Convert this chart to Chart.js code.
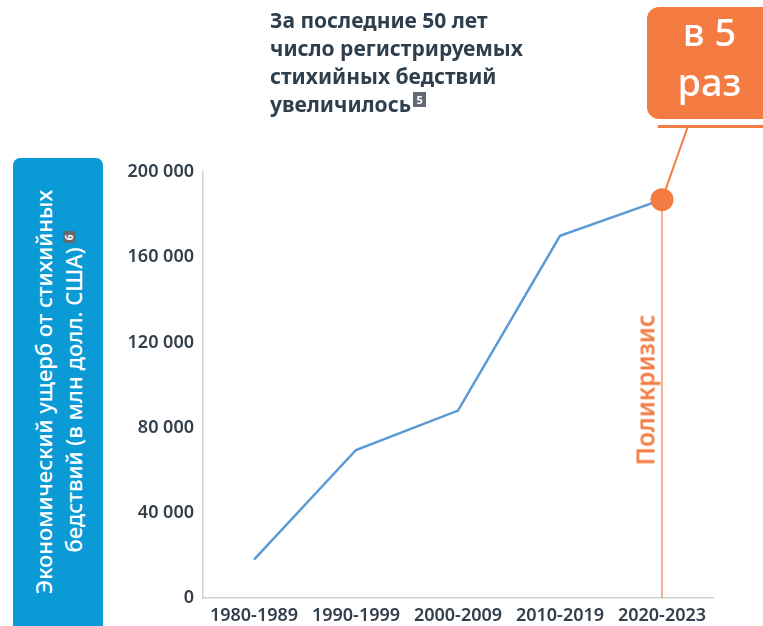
<!DOCTYPE html>
<html lang="ru">
<head>
<meta charset="utf-8">
<script src="https://cdn.jsdelivr.net/npm/chart.js@4"></script>
<style>
  html, body { margin: 0; padding: 0; background: #fff; }
  body { width: 763px; height: 626px; position: relative; overflow: hidden; font-family: "Noto Sans", sans-serif; }
  #wrap { position: absolute; left: 0; top: 0; width: 763px; height: 626px; }
  .title { position: absolute; left: 270px; top: 6px; font-size: 21px; font-weight: 700; line-height: 28px; color: #2f3e4c; }
  .sup { display: inline-block; background: #626a73; color: #fff; font-size: 11px; line-height: 15px; width: 13px; text-align: center; vertical-align: 8px; margin-left: 2px; font-weight: 700; }
  .ylabelBox { position: absolute; left: 13px; top: 158px; width: 90px; height: 480px; background: #0a9bd7; border-radius: 7px; }
  .ylabel { position: absolute; left: 58px; top: 392px; width: 460px; transform: translate(-50%, -50%) rotate(-90deg); color: #fff; font-size: 22px; font-weight: 500; line-height: 30px; text-align: center; }
  .ylabel .sup { font-size: 10px; line-height: 13px; width: 12px; vertical-align: 9px; margin-left: 4px; }
  .callout { position: absolute; left: 647px; top: 7px; width: 130px; height: 112px; background: #f47c42; border-radius: 12px; }
  .calloutText { position: absolute; left: 647px; top: 6px; width: 125px; text-align: center; color: #fff; font-size: 38px; font-weight: 500; line-height: 50px; }
  .underline { position: absolute; left: 658px; top: 125px; width: 110px; height: 3px; background: #f47c42; }
  .poly { position: absolute; left: 645px; top: 390px; transform: translate(-50%, -50%) rotate(-90deg); color: #f47c42; font-size: 24.5px; font-weight: 600; white-space: nowrap; }
</style>
</head>
<body>
<div id="wrap"><canvas id="lineChart"></canvas></div>
<div class="title">За последние 50 лет<br>число регистрируемых<br>стихийных бедствий<br>увеличилось<span class="sup">5</span></div>
<div class="ylabelBox"></div>
<div class="ylabel">Экономический ущерб от стихийных<br>бедствий (в млн долл. США)<span class="sup">6</span></div>
<div class="callout"></div>
<div class="calloutText">в 5<br>раз</div>
<div class="underline"></div>
<div class="poly">Поликризис</div>
<script>
const periods = ['1980-1989', '1990-1999', '2000-2009', '2010-2019', '2020-2023'];
const damage = [18000, 69500, 88000, 170000, 187000];
const yTicks = [0, 40000, 80000, 120000, 160000, 200000];

const orange = '#f47c42';
const lastIdx = damage.length - 1;

// vertical line + connector to the callout, drawn under the point
const polycrisis = {
    id: 'polycrisis',
    beforeDatasetsDraw(chart) {
        const ctx = chart.ctx;
        const pt = chart.getDatasetMeta(0).data[lastIdx];
        const bottom = chart.chartArea.bottom;
        ctx.save();
        ctx.strokeStyle = orange;
        ctx.lineWidth = 1.2;
        ctx.beginPath();
        ctx.moveTo(pt.x, pt.y);
        ctx.lineTo(pt.x, bottom);
        ctx.stroke();
        ctx.lineWidth = 2;
        ctx.beginPath();
        ctx.moveTo(pt.x, pt.y);
        ctx.lineTo(688, 126);
        ctx.stroke();
        ctx.restore();
    }
};

const lineCtx = document.getElementById('lineChart').getContext('2d');
const lineChart = new Chart(lineCtx, {
    type: 'line',
    data: {
        labels: periods,
        datasets: [{
            data: damage,
            borderColor: '#5b9bd5',
            borderWidth: 2.5,
            tension: 0,
            pointRadius: ctx => ctx.dataIndex === lastIdx ? 11.5 : 0,
            pointBackgroundColor: orange,
            pointBorderWidth: 0
        }]
    },
    options: {
        responsive: true,
        maintainAspectRatio: false,
        animation: false,
        layout: {
            padding: { left: 100, top: 172, right: 50, bottom: 0 }
        },
        plugins: {
            legend: { display: false },
            tooltip: { enabled: false }
        },
        scales: {
            x: {
                offset: true,
                grid: { display: false, drawTicks: false },
                border: { color: '#cfcfcf', width: 1.5 },
                ticks: {
                    color: '#333f4b',
                    font: { family: 'Noto Sans', size: 18, weight: '600' },
                    padding: 7,
                    maxRotation: 0
                },
                afterFit: scale => { scale.height = 28; }
            },
            y: {
                min: 0,
                max: 200000,
                grid: { display: false, drawTicks: false },
                border: { color: '#cfcfcf', width: 1.5 },
                afterBuildTicks: scale => { scale.ticks = yTicks.map(v => ({ value: v })); },
                ticks: {
                    color: '#333f4b',
                    font: { family: 'Noto Sans', size: 18, weight: '600' },
                    padding: 9,
                    callback: v => v.toLocaleString('ru-RU').replace(/\s/g, ' ')
                },
                afterFit: scale => { scale.width = 103; }
            }
        }
    },
    plugins: [polycrisis]
});
</script>
</body>
</html>
